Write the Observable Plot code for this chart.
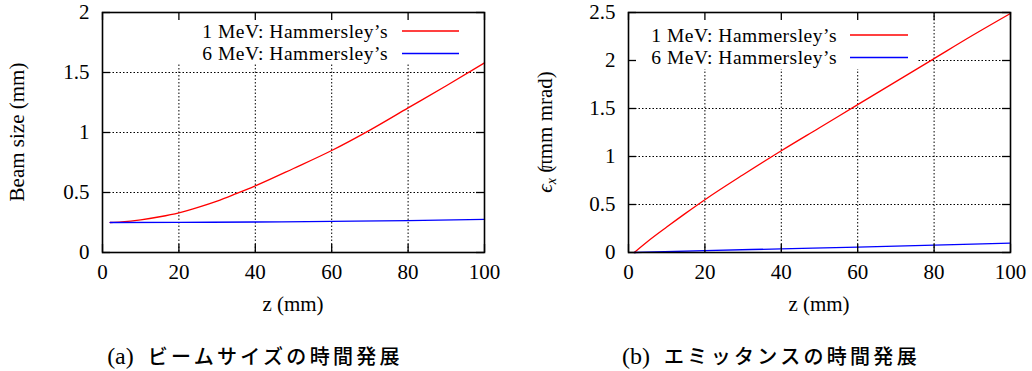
<!DOCTYPE html>
<html>
<head>
<meta charset="utf-8">
<script src="https://cdn.jsdelivr.net/npm/d3@7"></script>
<script src="https://cdn.jsdelivr.net/npm/@observablehq/plot@0.6"></script>
<style>
  body { margin: 0; background: #fff; }
  #wrap { position: relative; width: 1032px; height: 371px; overflow: hidden; }
  .panel { position: absolute; top: 0; }
  .panel svg, .panel svg text { font-family: "Liberation Serif", "Times New Roman", serif !important; }
  .cap { position: absolute; top: 341px; width: 510px; text-align: center; line-height: 30px; white-space: nowrap; color: #000; }
  .cap .tag { font-family: "Liberation Serif", serif; font-size: 24px; }
  .cap .jp { font-family: "Noto Sans CJK JP", sans-serif; font-size: 20px; font-weight: 500; letter-spacing: 3.3px; margin-left: 14px; }
</style>
</head>
<body>
<div id="wrap">
  <div class="panel" id="left" style="left:0"></div>
  <div class="panel" id="right" style="left:516px"></div>
  <div class="cap" style="left:0"><span class="tag">(a)</span><span class="jp">ビームサイズの時間発展</span></div>
  <div class="cap" style="left:516px"><span class="tag">(b)</span><span class="jp">エミッタンスの時間発展</span></div>
</div>
<script>
// ---- data ----
const seriesNames = ["1 MeV: Hammersley’s", "6 MeV: Hammersley’s"];
const seriesColors = ["#ff0000", "#0000ff"];
const xTicks = [0, 20, 40, 60, 80, 100];
const beamTicks = [0, 0.5, 1, 1.5, 2];
const emitTicks = [0, 0.5, 1, 1.5, 2, 2.5];

// beam size (mm) along z (mm)
const zBeam1 = [2, 5, 10, 15, 20, 25, 30, 35, 40, 50, 60, 70, 80, 90, 100];
const beamSize1MeV = [0.25, 0.255, 0.272, 0.298, 0.331, 0.376, 0.428, 0.49, 0.555, 0.70, 0.85, 1.02, 1.205, 1.39, 1.58];
const zBeam6 = [2, 20, 40, 60, 80, 100];
const beamSize6MeV = [0.25, 0.251, 0.254, 0.259, 0.266, 0.276];

// emittance (pi mm mrad) along z (mm)
const zEmit1 = [1.5, 5, 10, 15, 20, 30, 40, 50, 60, 70, 80, 90, 100];
const emit1MeV = [0, 0.115, 0.265, 0.41, 0.55, 0.81, 1.06, 1.30, 1.54, 1.78, 2.02, 2.26, 2.49];
const zEmit6 = [1.5, 20, 40, 60, 80, 100];
const emit6MeV = [0, 0.02, 0.038, 0.056, 0.076, 0.097];

const rows = (zs, vs) => zs.map((z, i) => ({z, v: vs[i]}));

const FONT = "'Liberation Serif', 'Times New Roman', serif";
const FS = 21;      // tick labels and axis titles
const KEY_FS = 19.5; // key entries
const KEY_GAP = 22.5;

// opaque key background, so that grid lines do not run through the key
function keyBox(k) {
  return (index, scales, values, dim) => {
    const L = dim.marginLeft, R = dim.width - dim.marginRight, T = dim.marginTop;
    const g = d3.create("svg:g");
    g.append("rect")
      .attr("x", L + k.boxLeft).attr("y", T + 1)
      .attr("width", (R - k.boxRight) - (L + k.boxLeft))
      .attr("height", k.boxBottom - 1)
      .attr("fill", "white");
    return g.node();
  };
}

// key entries: right-aligned title followed by a line sample
function keyEntries(k) {
  return (index, scales, values, dim) => {
    const R = dim.width - dim.marginRight, T = dim.marginTop;
    const g = d3.create("svg:g").attr("font-family", FONT).attr("font-size", KEY_FS)
      .attr("letter-spacing", "0.5px");
    seriesNames.forEach((name, i) => {
      const y = T + k.row0 + i * KEY_GAP;
      g.append("text").attr("x", R - k.textEnd).attr("y", y).attr("dy", "0.35em")
        .attr("text-anchor", "end").attr("fill", "black").text(name);
      g.append("line").attr("x1", R - k.lineStart).attr("x2", R - k.lineEnd)
        .attr("y1", y).attr("y2", y)
        .attr("stroke", seriesColors[i]).attr("stroke-width", 1.3);
    });
    return g.node();
  };
}

// axis titles (the y title may carry italic / subscript parts)
function axisTitles(xLabel, yParts, yLabelX) {
  return (index, scales, values, dim) => {
    const L = dim.marginLeft, R = dim.width - dim.marginRight;
    const T = dim.marginTop, B = dim.height - dim.marginBottom;
    const g = d3.create("svg:g").attr("font-family", FONT).attr("font-size", FS).attr("fill", "black");
    g.append("text").attr("x", (L + R) / 2).attr("y", B + 52).attr("dy", "0.32em")
      .attr("text-anchor", "middle").text(xLabel);
    const t = g.append("text")
      .attr("transform", `translate(${yLabelX},${(T + B) / 2}) rotate(-90)`)
      .attr("text-anchor", "middle").attr("dy", "0.32em");
    yParts.forEach(p => {
      const s = t.append("tspan").text(p.text);
      if (p.italic) s.attr("font-style", "italic");
      if (p.sub) s.attr("font-size", 14).attr("baseline-shift", "-4");
      if (p.dx) s.attr("dx", p.dx);
    });
    return g.node();
  };
}

function panel({series, yDomain, yTicks, yParts, marginLeft, marginRight, key, yLabelX}) {
  const width = 516, height = 320, marginTop = 12, marginBottom = 68;
  const innerW = width - marginLeft - marginRight;
  const innerH = height - marginTop - marginBottom;
  const inner = a => a.slice(1, -1);
  return Plot.plot({
    width, height, marginTop, marginBottom, marginLeft, marginRight,
    style: {fontFamily: FONT, fontSize: FS + "px", background: "white", color: "black"},
    x: {domain: [0, 100], ticks: xTicks, tickSize: 0, tickPadding: 12, label: null, tickFormat: d => String(d)},
    y: {domain: yDomain, ticks: yTicks, tickSize: 0, tickPadding: 13, label: null, tickFormat: d => String(d)},
    marks: [
      Plot.ruleX(inner(xTicks), {x: d => d, stroke: "black", strokeWidth: 1, strokeDasharray: "1.5,2"}),
      Plot.ruleY(inner(yTicks), {y: d => d, stroke: "black", strokeWidth: 1, strokeDasharray: "1.5,2"}),
      keyBox(key),
      ...series.map((s, i) => Plot.line(s, {x: "z", y: "v", stroke: seriesColors[i], strokeWidth: 1.3, curve: "monotone-x"})),
      // inward ticks on all four sides
      Plot.tickX(xTicks, {x: d => d, insetTop: innerH - 8, stroke: "black", strokeWidth: 1.3}),
      Plot.tickX(xTicks, {x: d => d, insetBottom: innerH - 8, stroke: "black", strokeWidth: 1.3}),
      Plot.tickY(yTicks, {y: d => d, insetRight: innerW - 8, stroke: "black", strokeWidth: 1.3}),
      Plot.tickY(yTicks, {y: d => d, insetLeft: innerW - 8, stroke: "black", strokeWidth: 1.3}),
      Plot.frame({stroke: "black", strokeWidth: 1.6}),
      keyEntries(key),
      axisTitles("z (mm)", yParts, yLabelX)
    ]
  });
}

document.getElementById("left").append(panel({
  series: [rows(zBeam1, beamSize1MeV), rows(zBeam6, beamSize6MeV)],
  yDomain: [0, 2], yTicks: beamTicks,
  yParts: [{text: "Beam size (mm)"}],
  marginLeft: 102, marginRight: 32, yLabelX: 17,
  key: {boxLeft: 66, boxRight: 15, boxBottom: 52, row0: 19, textEnd: 96, lineStart: 82, lineEnd: 25}
}));

document.getElementById("right").append(panel({
  series: [rows(zEmit1, emit1MeV), rows(zEmit6, emit6MeV)],
  yDomain: [0, 2.5], yTicks: emitTicks,
  yParts: [{text: "ϵ", italic: true}, {text: "x", italic: true, sub: true}, {text: " ("}, {text: "π", dx: -4}, {text: "mm mrad)"}],
  marginLeft: 112, marginRight: 22, yLabelX: 29,
  key: {boxLeft: 0, boxRight: 92, boxBottom: 57, row0: 23, textEnd: 173, lineStart: 160, lineEnd: 102}
}));
</script>
</body>
</html>
